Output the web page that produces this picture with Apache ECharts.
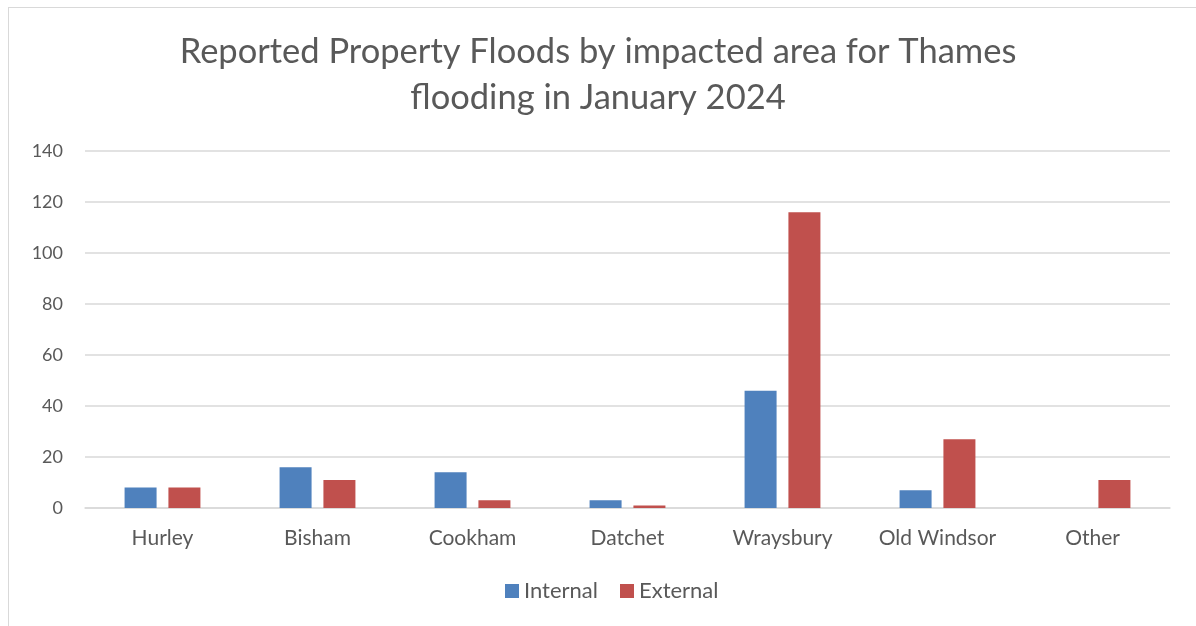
<!DOCTYPE html>
<html><head><meta charset="utf-8">
<script src="https://cdn.jsdelivr.net/npm/echarts@6/dist/echarts.min.js"></script>
<style>html,body{margin:0;padding:0;background:#fff}#c{width:1196px;height:626px}
#frame{position:absolute;left:8px;top:7px;width:1200px;height:640px;border:1px solid #d9d9d9;pointer-events:none}</style>
</head><body><div id="frame"></div><div id="c"></div>
<script>
const categories = ['Hurley','Bisham','Cookham','Datchet','Wraysbury','Old Windsor','Other'];
const internal = [8,16,14,3,46,7,0];
const external = [8,11,3,1,116,27,11];
const seriesNames = ['Internal','External'];
const FONT = 'Lato';
const chart = echarts.init(document.getElementById('c'));
chart.setOption({
  animation:false,
  title:{text:'Reported Property Floods by impacted area for Thames\nflooding in January 2024',left:'center',top:24,
    textStyle:{fontFamily:FONT,fontSize:34.5,fontWeight:'normal',color:'#595959',lineHeight:46}},
  legend:{bottom:19,left:500,itemWidth:14,itemHeight:14,itemGap:22,icon:'rect',
    textStyle:{fontFamily:FONT,fontSize:22,color:'#595959'}},
  grid:{left:85,right:26,top:151,bottom:118},
  xAxis:{type:'category',data:categories,axisTick:{show:false},
    axisLine:{lineStyle:{color:'#d9d9d9',width:1.5}},
    axisLabel:{fontFamily:FONT,fontSize:21,color:'#595959',margin:20}},
  yAxis:{type:'value',min:0,max:140,interval:20,
    axisLabel:{fontFamily:FONT,fontSize:18,color:'#595959',margin:22},
    splitLine:{lineStyle:{color:'#d9d9d9',width:1.5}}},
  series:[
    {name:seriesNames[0],type:'bar',data:internal,barWidth:32,barGap:'37%',itemStyle:{color:'#4f81bd'}},
    {name:seriesNames[1],type:'bar',data:external,barWidth:32,itemStyle:{color:'#c0504d'}}
  ]
});
</script></body></html>
